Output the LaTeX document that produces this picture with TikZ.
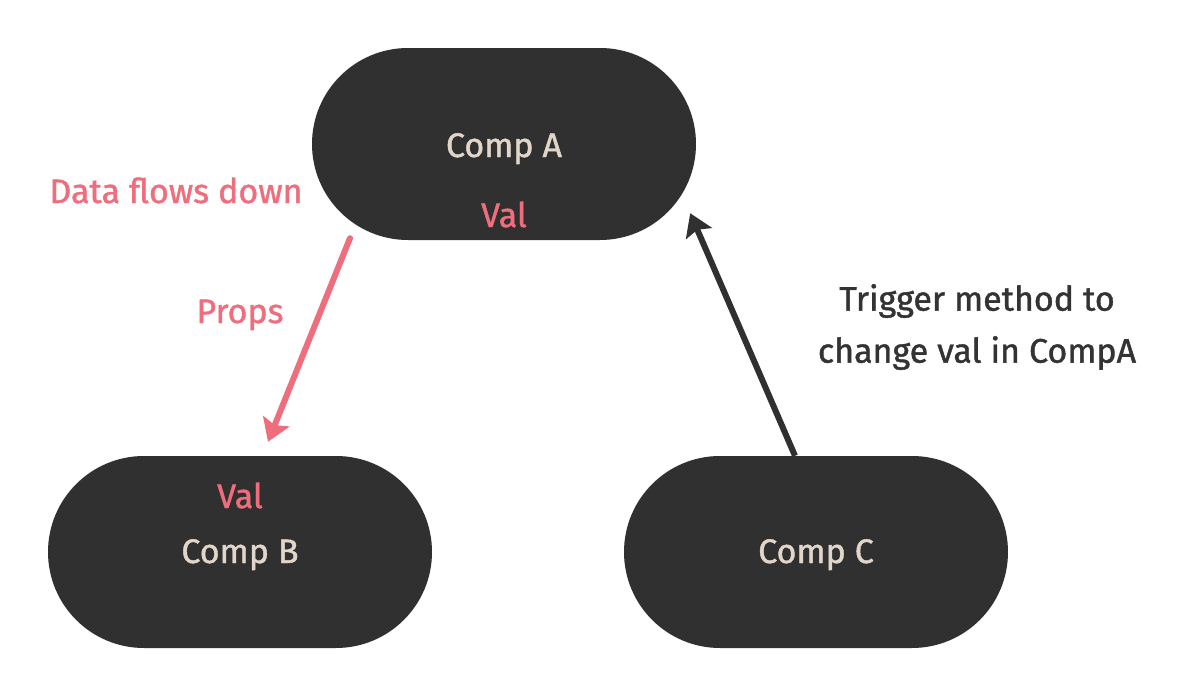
\documentclass[tikz,border=0pt]{standalone}
\usepackage{fontspec}
\setmainfont{Fira Sans}[FakeBold=1.2]
\usetikzlibrary{arrows.meta,calc}
\definecolor{dark}{HTML}{303030}
\definecolor{pinkc}{HTML}{EE6E7E}
\definecolor{beige}{HTML}{E2D6CA}
\definecolor{txt}{HTML}{333333}
\begin{document}
\begin{tikzpicture}[x=1pt,y=-1pt,
  comp/.style={draw=none,fill=dark,minimum width=384pt,minimum height=192pt,rounded corners=96pt,inner sep=0pt},
  lbl/.style={font=\fontsize{34}{40}\selectfont,text=beige,inner sep=0pt,anchor=base},
  vallbl/.style={font=\fontsize{34}{40}\selectfont,text=pinkc,inner sep=0pt,anchor=base},
  note/.style={font=\fontsize{34}{52}\selectfont,text=txt,align=center,inner sep=0pt},
  pinkarrow/.style={draw=pinkc,line width=6pt,line cap=round,-{Stealth[length=22pt,width=28pt,inset=4pt]}},
  darkarrow/.style={draw=dark,line width=6pt,-{Stealth[length=22pt,width=28pt,inset=4pt]}}]
\useasboundingbox[fill=white] (0,0) rectangle (1189,696);
\node[comp] (A) at (504,144) {};
\node[comp] (B) at (240,552) {};
\node[comp] (C) at (816,552) {};
\node[lbl] (At) at (504,157) {Comp A};
\node[vallbl] (Av) at (504,227) {Val};
\node[vallbl] (Bv) at (240,508) {Val};
\node[lbl] (Bt) at (240,563) {Comp B};
\node[lbl] (Ct) at (816,563) {Comp C};
\node[vallbl] (flow) at (176,203) {Data flows down};
\node[vallbl] (props) at (240,323) {Props};
\node[note] (trig) at (977,327) {Trigger method to\\change val in CompA};
\path (A.south) ++(-154,-2) coordinate (a1);
\path (B.north) ++(28,-14) coordinate (b1);
\path (C.north) ++(-21,0) coordinate (c1);
\path (A.south east) ++(-6,-27) coordinate (a2);
\draw[pinkarrow] (a1) -- (b1);
\draw[darkarrow] (c1) -- (a2);
\end{tikzpicture}
\end{document}
